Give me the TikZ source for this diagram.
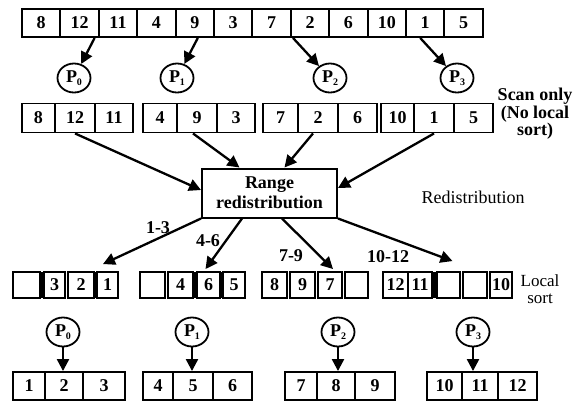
\documentclass[tikz,border=0pt]{standalone}
\usepackage{fontspec}
\setmainfont{Liberation Serif}
\usetikzlibrary{arrows.meta,shapes.geometric}
\newcommand\mycell[6]{\node[cell, minimum width={#3-#2}, minimum height=#5] (#1) at ({(#2+#3)/2},#4) {#6};}
\begin{document}
\begin{tikzpicture}[x=1pt,y=-1pt,
  cell/.style={draw, line width=1.9pt, inner sep=0pt, font=\fontsize{18}{18}\selectfont\bfseries},
  proc/.style={draw, ellipse, line width=1.8pt, minimum width=33pt, minimum height=29pt, inner sep=0pt, font=\fontsize{18}{18}\selectfont\bfseries},
  arr/.style={line width=2.3pt, -{Triangle[length=12pt,width=12pt]}},
  lab/.style={font=\fontsize{18}{15}\selectfont\bfseries, align=center, inner sep=0pt},
  rlab/.style={font=\fontsize{18}{16}\selectfont, align=center, inner sep=0pt},
  bar/.style={fill=black}]
\useasboundingbox (0,0) rectangle (584,402);
\newcommand\Pn[1]{P\raisebox{-3.5pt}{\fontsize{10}{10}\selectfont #1}}
% top row
\foreach \v [count=\i] in {8,12,11,4,9,3,7,2,6,10,1,5}
  \node[cell, minimum width=38.4pt, minimum height=28pt] (t\i) at ({22+19.2+38.4*(\i-1)},23) {\v};
% top processors
\node[proc] (p0) at (74,78) {\Pn{0}};
\node[proc] (p1) at (177,78) {\Pn{1}};
\node[proc] (p2) at (330,78) {\Pn{2}};
\node[proc] (p3) at (457,78) {\Pn{3}};
\draw[arr] ([xshift=15pt]t2.south) -- (p0);
\draw[arr] ([xshift=3pt]t5.south) -- (p1);
\draw[arr] ([xshift=-17pt]t8.south) -- (p2);
\draw[arr] ([xshift=-5pt]t11.south) -- (p3);
% second row
\mycell{s1a}{22}{55}{118}{29pt}{8}
\mycell{s1b}{55}{95}{118}{29pt}{12}
\mycell{s1c}{95}{133}{118}{29pt}{11}
\mycell{s2a}{143}{177}{118}{29pt}{4}
\mycell{s2b}{177}{217}{118}{29pt}{9}
\mycell{s2c}{217}{255}{118}{29pt}{3}
\mycell{s3a}{263}{298}{118}{29pt}{7}
\mycell{s3b}{298}{338}{118}{29pt}{2}
\mycell{s3c}{338}{377}{118}{29pt}{6}
\mycell{s4a}{381}{414}{118}{29pt}{10}
\mycell{s4b}{414}{454}{118}{29pt}{1}
\mycell{s4c}{454}{493}{118}{29pt}{5}
\node[lab] (scan) at (535,114) {Scan only\\(No local\\sort)};
% redistribution box
\node[draw, line width=2pt, minimum width=135pt, minimum height=49pt, inner sep=0pt, align=center,
      font=\fontsize{18}{20}\selectfont\bfseries] (rr) at (269.5,193) {Range\\redistribution};
\node[rlab] (redis) at (473,197) {Redistribution};
\draw[arr] (s1b.south) -- ([yshift=3pt]rr.west);
\draw[arr] ([xshift=-4pt]s2b.south) -- ([xshift=-30pt]rr.north);
\draw[arr] ([xshift=-5pt]s3b.south) -- ([xshift=15pt]rr.north);
\draw[arr] (s4b.south) -- ([yshift=5pt]rr.east);
% third row
\mycell{g1a}{13}{40}{285}{26pt}{}
\mycell{g1b}{44}{65}{285}{26pt}{3}
\mycell{g1c}{68}{94}{285}{26pt}{2}
\mycell{g1d}{97}{118}{285}{26pt}{1}
\fill[bar] (40,272) rectangle (44,298);
\fill[bar] (94,272) rectangle (97,298);
\mycell{g2a}{140}{165}{285}{26pt}{}
\mycell{g2b}{168}{193}{285}{26pt}{4}
\mycell{g2c}{197}{220}{285}{26pt}{6}
\mycell{g2d}{223}{245}{285}{26pt}{5}
\fill[bar] (193,272) rectangle (197,298);
\fill[bar] (220,272) rectangle (223,298);
\mycell{g3a}{262}{287}{285}{26pt}{8}
\mycell{g3b}{290}{315}{285}{26pt}{9}
\mycell{g3c}{318}{342}{285}{26pt}{7}
\mycell{g3d}{345}{368}{285}{26pt}{}
\mycell{g4a}{383}{408}{285}{26pt}{12}
\mycell{g4b}{408}{432}{285}{26pt}{11}
\mycell{g4c}{437}{460}{285}{26pt}{}
\mycell{g4d}{463}{487}{285}{26pt}{}
\mycell{g4e}{490}{512}{285}{26pt}{10}
\fill[bar] (432,272) rectangle (437,298);
\node[rlab, font=\fontsize{17}{17}\selectfont] (lsort) at (540,289) {Local\\sort};
% redistribution arrows
\draw[arr] (rr.south west) -- ([xshift=-4.5pt,yshift=7pt]g1d.north);
\draw[arr] ([xshift=-27.5pt]rr.south) -- ([xshift=-3pt,yshift=2pt]g2c.north);
\draw[arr] ([xshift=12.5pt]rr.south) -- ([xshift=3pt,yshift=2pt]g3c.north);
\draw[arr] (rr.south east) -- ([xshift=4pt,yshift=10pt]g4c.north);
\node[lab] (l13) at (158,228) {1-3};
\node[lab] (l46) at (208,241) {4-6};
\node[lab] (l79) at (291,256) {7-9};
\node[lab] (l1012) at (388,257) {10-12};
% bottom processors
\node[proc] (q0) at (63,332) {\Pn{0}};
\node[proc] (q1) at (192,332) {\Pn{1}};
\node[proc] (q2) at (338,332) {\Pn{2}};
\node[proc] (q3) at (473,332) {\Pn{3}};
% bottom row
\mycell{b1a}{13}{45}{386}{28pt}{1}
\mycell{b1b}{45}{83}{386}{28pt}{2}
\mycell{b1c}{83}{125}{386}{28pt}{3}
\mycell{b2a}{143}{173}{386}{28pt}{4}
\mycell{b2b}{173}{213}{386}{28pt}{5}
\mycell{b2c}{213}{252}{386}{28pt}{6}
\mycell{b3a}{285}{317}{386}{28pt}{7}
\mycell{b3b}{317}{355}{386}{28pt}{8}
\mycell{b3c}{355}{395}{386}{28pt}{9}
\mycell{b4a}{427}{462}{386}{28pt}{10}
\mycell{b4b}{462}{498}{386}{28pt}{11}
\mycell{b4c}{498}{537}{386}{28pt}{12}
\draw[arr] (q0) -- (q0 |- b1b.north);
\draw[arr] (q1) -- (q1 |- b2b.north);
\draw[arr] (q2) -- (q2 |- b3b.north);
\draw[arr] (q3) -- (q3 |- b4b.north);
\end{tikzpicture}
\end{document}
